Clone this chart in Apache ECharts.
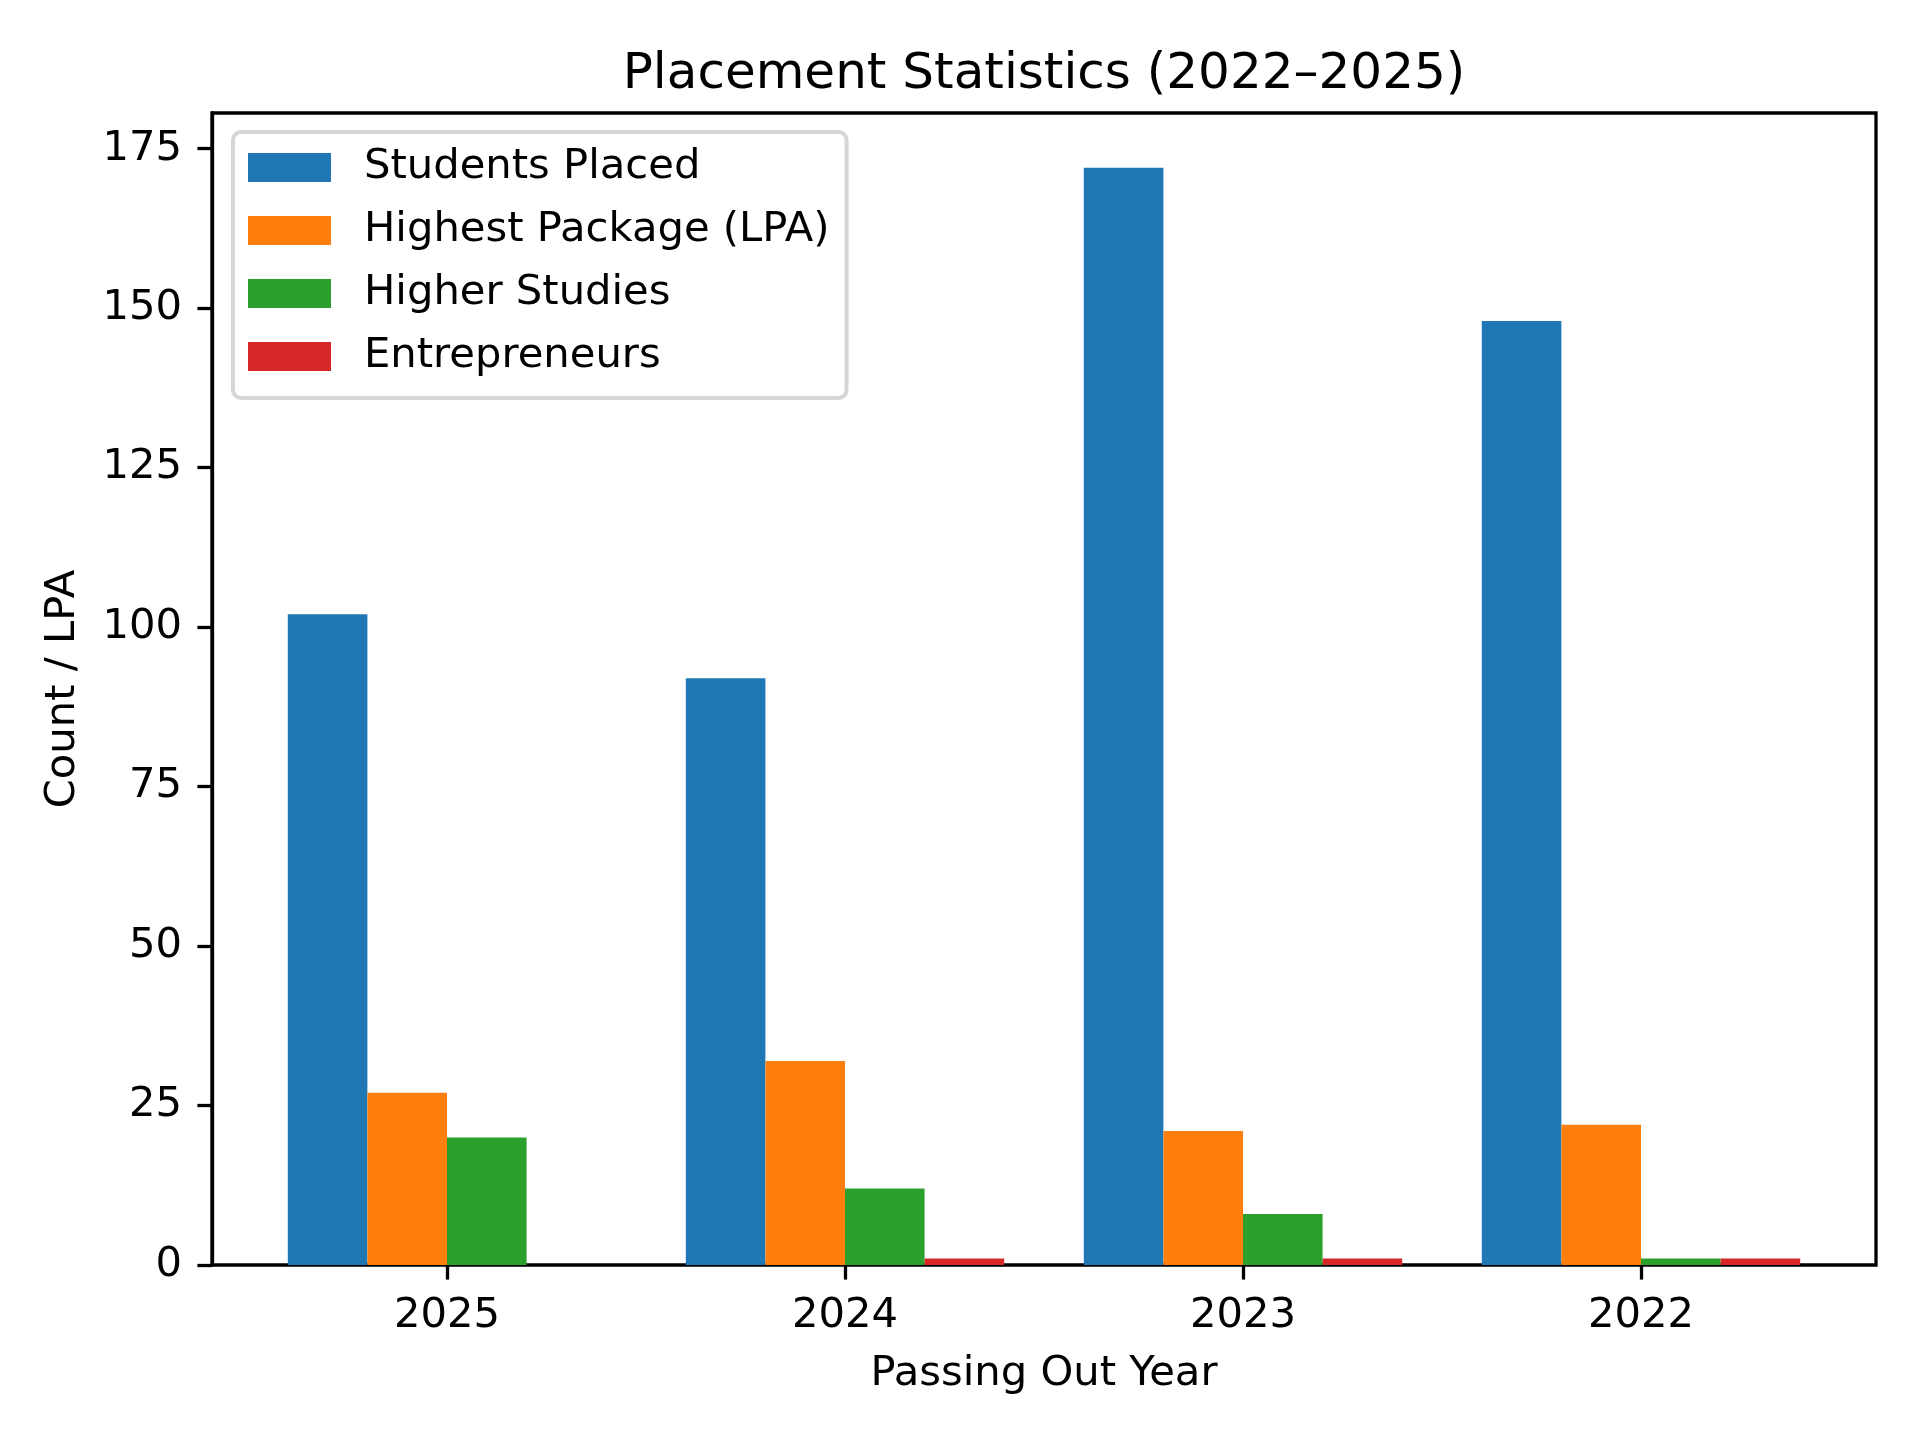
<!DOCTYPE html>
<html>
<head>
<meta charset="utf-8">
<title>Placement Statistics</title>
<script src="https://cdn.jsdelivr.net/npm/echarts@6/dist/echarts.min.js"></script>
<style>
  html, body { margin: 0; padding: 0; background: #fff; }
  #chart { width: 1920px; height: 1440px; }
</style>
</head>
<body>
<div id="chart"></div>
<script>
// data
var years = ['2025', '2024', '2023', '2022'];
var studentsPlaced = [102, 92, 172, 148];
var highestPackage = [27, 32, 21, 22];
var higherStudies = [20, 12, 8, 1];
var entrepreneurs = [0, 1, 1, 1];
var yTicks = [0, 25, 50, 75, 100, 125, 150, 175];

var seriesNames = ['Students Placed', 'Highest Package (LPA)', 'Higher Studies', 'Entrepreneurs'];
var seriesData = [studentsPlaced, highestPackage, higherStudies, entrepreneurs];
var colors = ['#1f77b4', '#ff7f0e', '#2ca02c', '#d62728'];

var font = 'DejaVu Sans';
var fs = 41.7;
var yMax = 180.6;

var chart = echarts.init(document.getElementById('chart'));

var series = seriesNames.map(function (name, i) {
    return {
        name: name,
        type: 'bar',
        xAxisIndex: 1,
        yAxisIndex: 1,
        data: seriesData[i],
        barGap: '0%',
        barCategoryGap: '20%',
        itemStyle: { color: colors[i] },
        emphasis: { disabled: true }
    };
});

chart.setOption({
    animation: false,
    backgroundColor: '#fff',
    textStyle: { fontFamily: font },
    color: colors,
    title: {
        text: 'Placement Statistics (2022\u20132025)',
        left: 1039,
        top: 45,
        textAlign: 'center',
        textStyle: { fontFamily: font, fontSize: 50, fontWeight: 'normal', color: '#000' }
    },
    legend: {
        orient: 'vertical',
        left: 233,
        top: 132,
        icon: 'rect',
        itemWidth: 83,
        itemHeight: 29,
        itemGap: 16,
        padding: [12, 17, 18, 15],
        backgroundColor: 'rgba(255,255,255,0.8)',
        borderColor: '#d6d6d6',
        borderWidth: 4,
        borderRadius: 8,
        textStyle: {
            fontFamily: font, fontSize: fs, color: '#000',
            lineHeight: 42, padding: [5, 0, 0, 28]
        },
        data: seriesNames
    },
    grid: [
        // outer frame (axes box)
        { left: 212, right: 44, top: 113, bottom: 175, show: true,
          borderColor: '#000', borderWidth: 3.3, backgroundColor: 'transparent' },
        // inner grid holding the category bands
        { left: 248, right: 80, top: 113, bottom: 175 }
    ],
    xAxis: [
        { type: 'value', gridIndex: 0, min: 0, max: 1, show: false },
        {
            type: 'category',
            gridIndex: 1,
            data: years,
            name: 'Passing Out Year',
            nameLocation: 'middle',
            nameGap: 88,
            nameTextStyle: { fontFamily: font, fontSize: fs, color: '#000' },
            axisLine: { show: false },
            axisTick: {
                show: true, alignWithLabel: true, length: 14.6,
                lineStyle: { color: '#000', width: 3.3 }
            },
            axisLabel: { fontFamily: font, fontSize: fs, color: '#000', margin: 30 },
            splitLine: { show: false }
        }
    ],
    yAxis: [
        {
            type: 'value',
            gridIndex: 0,
            min: 0,
            max: yMax,
            name: 'Count / LPA',
            nameLocation: 'middle',
            nameGap: 128,
            nameTextStyle: { fontFamily: font, fontSize: fs, color: '#000' },
            axisLine: { show: true, lineStyle: { color: '#000', width: 3.3 } },
            axisTick: {
                show: true, length: 14.6, customValues: yTicks,
                lineStyle: { color: '#000', width: 3.3 }
            },
            axisLabel: {
                fontFamily: font, fontSize: fs, color: '#000', margin: 30,
                padding: [5, 0, 0, 0],
                customValues: yTicks
            },
            splitLine: { show: false }
        },
        { type: 'value', gridIndex: 1, min: 0, max: yMax, show: false }
    ],
    series: series
});
</script>
</body>
</html>
